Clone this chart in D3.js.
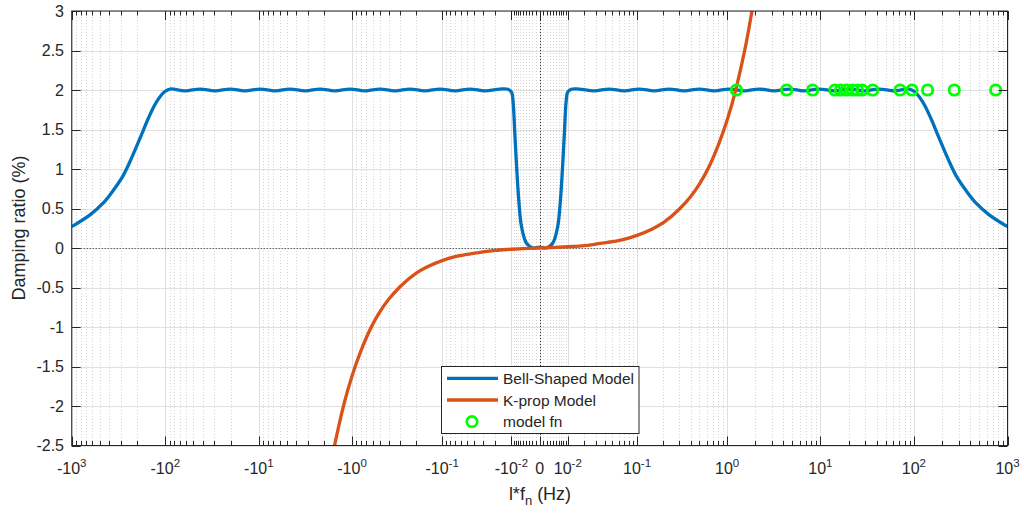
<!DOCTYPE html>
<html>
<head>
<meta charset="utf-8">
<script src="https://cdn.jsdelivr.net/npm/d3@7"></script>
<style>
body { margin: 0; background: #fff; }
text { font-family: "Liberation Sans", Arial, sans-serif; fill: #262626; }
</style>
</head>
<body>
<svg id="chart" width="1024" height="515"></svg>
<script>
// Bell-shaped model (x in Hz, y in %)
var bellX = [-1000, -637, -459, -359, -281, -229, -186, -152, -124, -101,
  -89.0, -61.6, -42.6, -29.4, -20.3, -14.1, -9.71, -6.71, -4.64, -3.20, -2.21, -1.53,
  -1.05, -0.724, -0.498, -0.341, -0.233, -0.158, -0.106, -0.0702, -0.0454, -0.0283, -0.0165,
  -0.0118, -0.0099, -0.0092, -0.0084, -0.0076, -0.0067, -0.0056, -0.0038, -0.0018, 0,
  0.0018, 0.0038, 0.0056, 0.0067, 0.0076, 0.0084, 0.0092, 0.0099, 0.0118,
  0.0165, 0.0283, 0.0454, 0.0702, 0.106, 0.158, 0.233, 0.341, 0.498, 0.724, 1.05,
  1.53, 2.21, 3.20, 4.64, 6.71, 9.71, 14.1, 20.3, 29.4, 42.6, 61.6, 89.0,
  101, 124, 152, 186, 229, 281, 359, 459, 637, 1000];
var bellY = [0.27, 0.42, 0.57, 0.73, 0.92, 1.14, 1.39, 1.64, 1.85, 1.98,
  2.012, 1.99, 2.012, 1.99, 2.012, 1.99, 2.012, 1.99, 2.012, 1.99, 2.012, 1.99,
  2.012, 1.99, 2.012, 1.99, 2.012, 1.99, 2.012, 1.99, 2.012, 1.99, 2.012,
  2.01, 1.97, 1.85, 1.45, 1.03, 0.61, 0.27, 0.06, 0.0, 0.01,
  0.0, 0.06, 0.27, 0.61, 1.03, 1.45, 1.85, 1.97, 2.01,
  2.012, 1.99, 2.012, 1.99, 2.012, 1.99, 2.012, 1.99, 2.012, 1.99, 2.012,
  1.99, 2.012, 1.99, 2.012, 1.99, 2.012, 1.99, 2.012, 1.99, 2.012, 1.99, 2.012,
  1.98, 1.85, 1.64, 1.39, 1.14, 0.92, 0.73, 0.57, 0.42, 0.27];

// K-prop model
var kpropX = [-1.7, -1.6, -1.4, -1.2, -1.0, -0.8, -0.6, -0.5, -0.4, -0.3, -0.2, -0.15, -0.1,
  -0.07, -0.05, -0.03, -0.02, -0.01, -0.005, 0, 0.005, 0.01, 0.02, 0.03, 0.05, 0.07,
  0.1, 0.15, 0.2, 0.3, 0.4, 0.5, 0.6, 0.8, 1.0, 1.2, 1.4, 1.6, 1.9];
var kpropY = [-2.75, -2.59, -2.27, -1.94, -1.62, -1.30, -0.97, -0.81, -0.65, -0.49, -0.32, -0.24, -0.16,
  -0.11, -0.08, -0.05, -0.03, -0.016, -0.008, 0, 0.008, 0.016, 0.03, 0.05, 0.08, 0.11,
  0.16, 0.24, 0.32, 0.49, 0.65, 0.81, 0.97, 1.30, 1.62, 1.94, 2.27, 2.59, 3.08];

// model natural frequencies
var fnX = [1.26, 4.36, 8.27, 14.3, 16.4, 19.0, 22.1, 24.9, 27.9, 36.3, 71.0, 95.4, 140, 270, 748];
var fnY = [2, 2, 2, 2, 2, 2, 2, 2, 2, 2, 2, 2, 2, 2, 2];

var xMajor = [-1000, -100, -10, -1, -0.1, -0.01, 0, 0.01, 0.1, 1, 10, 100, 1000];
var xTickBase = ["-10", "-10", "-10", "-10", "-10", "-10", "0", "10", "10", "10", "10", "10", "10"];
var xTickExp = ["3", "2", "1", "0", "-1", "-2", "", "-2", "-1", "0", "1", "2", "3"];
var yTicks = [-2.5, -2, -1.5, -1, -0.5, 0, 0.5, 1, 1.5, 2, 2.5, 3];
var yTickLabels = ["-2.5", "-2", "-1.5", "-1", "-0.5", "0", "0.5", "1", "1.5", "2", "2.5", "3"];
var seriesNames = ["Bell-Shaped Model", "K-prop Model", "model fn"];
var seriesColors = ["#0072BD", "#D95319", "#00FF00"];

var plotLeft = 71.7, plotRight = 1007.5, plotTop = 11, plotBottom = 445.5;

var x = d3.scaleSymlog().constant(0.01).domain([-1000, 1000]).range([plotLeft, plotRight]);
var y = d3.scaleLinear().domain([-2.5, 3]).range([plotBottom, plotTop]);

// minor ticks: 2..9 of each decade, plus 1..9 x 1e-3 near zero
var xMinor = [];
[-3, -2, -1, 0, 1, 2].forEach(function(n) {
  for (var k = (n === -3 ? 1 : 2); k <= 9; k++) {
    var v = +(k * Math.pow(10, n)).toPrecision(3);
    xMinor.push(v, -v);
  }
});

function snap(v) { return Math.round(v) + 0.5; }

var svg = d3.select("#chart");
svg.append("rect").attr("width", 1024).attr("height", 515).attr("fill", "#fff");

svg.append("defs").append("clipPath").attr("id", "plotclip")
  .append("rect").attr("x", plotLeft).attr("y", plotTop)
  .attr("width", plotRight - plotLeft).attr("height", plotBottom - plotTop);

// grid
var grid = svg.append("g");
grid.selectAll(".minor").data(xMinor).enter().append("line")
  .attr("x1", function(d) { return snap(x(d)); })
  .attr("x2", function(d) { return snap(x(d)); })
  .attr("y1", plotTop).attr("y2", plotBottom)
  .attr("stroke", "#d6d6d6").attr("stroke-width", 1).attr("stroke-dasharray", "1,2");
grid.selectAll(".xmaj").data(xMajor).enter().append("line")
  .attr("x1", function(d) { return snap(x(d)); })
  .attr("x2", function(d) { return snap(x(d)); })
  .attr("y1", plotTop).attr("y2", plotBottom)
  .attr("stroke", "#dfdfdf").attr("stroke-width", 1);
grid.selectAll(".ymaj").data(yTicks).enter().append("line")
  .attr("x1", plotLeft).attr("x2", plotRight)
  .attr("y1", function(d) { return snap(y(d)); })
  .attr("y2", function(d) { return snap(y(d)); })
  .attr("stroke", "#dfdfdf").attr("stroke-width", 1);

// zero reference lines
svg.append("line").attr("x1", plotLeft).attr("x2", plotRight)
  .attr("y1", snap(y(0))).attr("y2", snap(y(0)))
  .attr("stroke", "#333").attr("stroke-width", 1).attr("stroke-dasharray", "1,2");
svg.append("line").attr("x1", snap(x(0))).attr("x2", snap(x(0)))
  .attr("y1", plotTop).attr("y2", plotBottom)
  .attr("stroke", "#333").attr("stroke-width", 1).attr("stroke-dasharray", "1,2");

var smoothLine = d3.line()
  .x(function(d) { return x(d[0]); })
  .y(function(d) { return y(d[1]); })
  .curve(d3.curveCatmullRom.alpha(0.5));
var line = d3.line()
  .x(function(d) { return x(d[0]); })
  .y(function(d) { return y(d[1]); })
  .curve(d3.curveMonotoneX);

var plot = svg.append("g").attr("clip-path", "url(#plotclip)");
plot.append("path").datum(d3.zip(bellX, bellY))
  .attr("d", smoothLine).attr("fill", "none")
  .attr("stroke", seriesColors[0]).attr("stroke-width", 3.3).attr("stroke-linejoin", "round");
plot.append("path").datum(d3.zip(kpropX, kpropY))
  .attr("d", line).attr("fill", "none")
  .attr("stroke", seriesColors[1]).attr("stroke-width", 3.3).attr("stroke-linejoin", "round");
plot.selectAll("circle").data(d3.zip(fnX, fnY)).enter().append("circle")
  .attr("cx", function(d) { return x(d[0]); })
  .attr("cy", function(d) { return y(d[1]); })
  .attr("r", 5.2).attr("fill", "none")
  .attr("stroke", seriesColors[2]).attr("stroke-width", 2.8);

// axes box and ticks
var ax = svg.append("g").attr("stroke", "#262626").attr("stroke-width", 1);
ax.append("rect").attr("x", plotLeft).attr("y", plotTop)
  .attr("width", plotRight - plotLeft).attr("height", plotBottom - plotTop).attr("fill", "none");
xMajor.forEach(function(d) {
  var px = snap(x(d));
  ax.append("line").attr("x1", px).attr("x2", px).attr("y1", plotBottom).attr("y2", plotBottom - 9);
  ax.append("line").attr("x1", px).attr("x2", px).attr("y1", plotTop).attr("y2", plotTop + 9);
});
xMinor.forEach(function(d) {
  var px = snap(x(d));
  ax.append("line").attr("x1", px).attr("x2", px).attr("y1", plotBottom).attr("y2", plotBottom - 4.5);
  ax.append("line").attr("x1", px).attr("x2", px).attr("y1", plotTop).attr("y2", plotTop + 4.5);
});
yTicks.forEach(function(d) {
  var py = snap(y(d));
  ax.append("line").attr("x1", plotLeft).attr("x2", plotLeft + 9).attr("y1", py).attr("y2", py);
  ax.append("line").attr("x1", plotRight).attr("x2", plotRight - 9).attr("y1", py).attr("y2", py);
});

// tick labels
xMajor.forEach(function(d, i) {
  var t = svg.append("text").attr("x", x(d)).attr("y", 474)
    .attr("text-anchor", "middle").style("font-size", "16px");
  t.append("tspan").text(xTickBase[i]);
  if (xTickExp[i]) t.append("tspan").attr("dy", -7).style("font-size", "11.5px").text(xTickExp[i]);
});
yTicks.forEach(function(d, i) {
  svg.append("text").attr("x", 64).attr("y", y(d)).attr("dy", "0.36em")
    .attr("text-anchor", "end").style("font-size", "16px").text(yTickLabels[i]);
});

// axis titles
var xl = svg.append("text").attr("x", 540).attr("y", 500)
  .attr("text-anchor", "middle").style("font-size", "18px");
xl.append("tspan").text("l*f");
xl.append("tspan").attr("dy", 5).style("font-size", "13px").text("n");
xl.append("tspan").attr("dy", -5).text(" (Hz)");

svg.append("text").attr("transform", "translate(25,228) rotate(-90)")
  .attr("text-anchor", "middle").style("font-size", "18px").text("Damping ratio (%)");

// legend
var lg = svg.append("g");
lg.append("rect").attr("x", 441.5).attr("y", 366.5).attr("width", 197.5).attr("height", 67)
  .attr("fill", "#fff").attr("stroke", "#262626").attr("stroke-width", 1);
var rowY = [378.3, 400, 421.7];
seriesNames.forEach(function(name, i) {
  if (i < 2) {
    lg.append("line").attr("x1", 447).attr("x2", 498).attr("y1", rowY[i]).attr("y2", rowY[i])
      .attr("stroke", seriesColors[i]).attr("stroke-width", 3.3);
  } else {
    lg.append("circle").attr("cx", 472).attr("cy", rowY[i]).attr("r", 5.2)
      .attr("fill", "none").attr("stroke", seriesColors[i]).attr("stroke-width", 2.8);
  }
  lg.append("text").attr("x", 503).attr("y", rowY[i]).attr("dy", "0.36em")
    .style("font-size", "15.5px").text(name);
});
</script>
</body>
</html>
